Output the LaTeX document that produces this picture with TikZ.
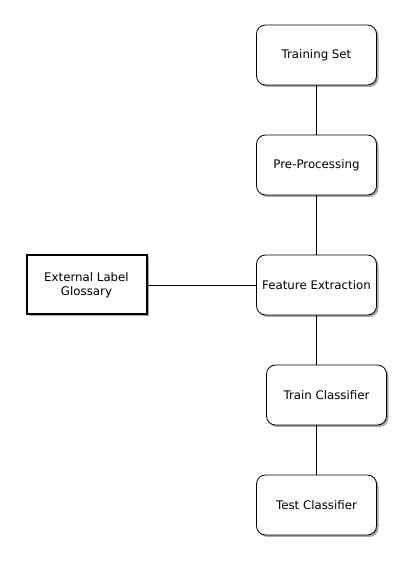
\documentclass[tikz,border=0pt]{standalone}
\usepackage{fontspec}
\setmainfont{DejaVu Sans}
\usetikzlibrary{shadows}
\begin{document}
\begin{tikzpicture}[x=1pt,y=1pt,
  stepbox/.style={draw=black, line width=0.8pt, rounded corners=9pt, fill=white,
    minimum width=120pt, minimum height=60pt, inner sep=0pt, font=\fontsize{11.8}{14}\selectfont,
    drop shadow={shadow xshift=2pt, shadow yshift=-2pt, fill=gray!70, opacity=1}},
  extbox/.style={draw=black, line width=2pt, fill=white,
    minimum width=120pt, minimum height=59pt, inner sep=0pt, align=center, font=\fontsize{11.8}{14}\selectfont,
    drop shadow={shadow xshift=2pt, shadow yshift=-2pt, fill=gray!70, opacity=1}},
  link/.style={draw=black, line width=0.8pt}]
\useasboundingbox (0,0) rectangle (414,565);
\node[stepbox] (ts) at (316.5,510) {Training Set};
\node[stepbox] (pp) at (316.5,400) {Pre-Processing};
\node[stepbox] (fe) at (316.5,280) {Feature Extraction};
\node[stepbox] (tc) at (326.5,170) {Train Classifier};
\node[stepbox] (tt) at (316.5,60) {Test Classifier};
\node[extbox] (ext) at (86.5,280) {External Label\\Glossary};
\draw[link] (ts.south) -- (pp.north);
\draw[link] (pp.south) -- (fe.north);
\draw[link] (fe.south) -- (fe.south |- tc.north);
\draw[link] (tc.south -| tt.north) -- (tt.north);
\draw[link] (ext.east) -- (fe.west);
\end{tikzpicture}
\end{document}
